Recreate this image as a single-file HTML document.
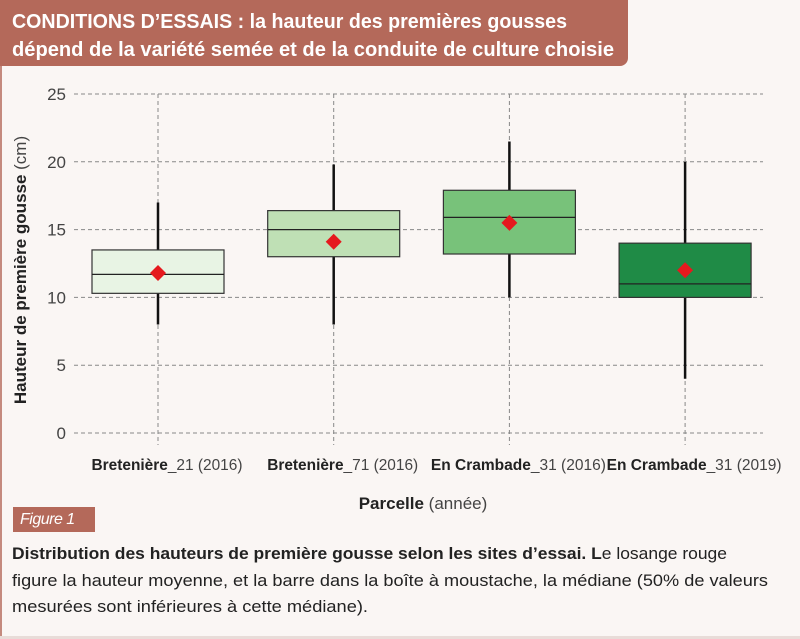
<!DOCTYPE html>
<html><head><meta charset="utf-8">
<style>
body{margin:0;background:#faf6f4;}
#root{position:relative;width:800px;height:639px;overflow:hidden;background:#faf6f4;font-family:"Liberation Sans",sans-serif;}
.hdr{position:absolute;left:0;top:0;width:628px;height:66px;background:#b4695a;border-bottom-right-radius:8px;}
.lb{position:absolute;left:0;top:66px;width:2px;height:573px;background:#c48a7e;}
.bb{position:absolute;left:0;top:636px;width:800px;height:3px;background:#e8dcd8;}
.fig{position:absolute;left:13px;top:507px;width:82px;height:25px;background:#b4695a;color:#fff;font-style:italic;font-size:16px;line-height:25px;padding-left:7px;box-sizing:border-box;letter-spacing:-0.5px;}
</style></head><body>
<div id="root">
<div class="hdr"></div>
<div class="lb"></div>
<div class="bb"></div>
<svg id="chart" width="800" height="639" style="position:absolute;left:0;top:0">
<text x="12" y="28" textLength="555" lengthAdjust="spacingAndGlyphs" font-size="20" font-weight="bold" fill="#fff" font-family="Liberation Sans, sans-serif">CONDITIONS D’ESSAIS : la hauteur des premières gousses</text>
<text x="12" y="56" textLength="602" lengthAdjust="spacingAndGlyphs" font-size="20" font-weight="bold" fill="#fff" font-family="Liberation Sans, sans-serif">dépend de la variété semée et de la conduite de culture choisie</text>
<g font-size="17" fill="#222" font-family="Liberation Sans, sans-serif">
<text x="12" y="559" textLength="715" lengthAdjust="spacingAndGlyphs"><tspan font-weight="bold">Distribution des hauteurs de première gousse selon les sites d’essai. L</tspan>e losange rouge</text>
<text x="12" y="586" textLength="756" lengthAdjust="spacingAndGlyphs">figure la hauteur moyenne, et la barre dans la boîte à moustache, la médiane (50% de valeurs</text>
<text x="12" y="612" textLength="356" lengthAdjust="spacingAndGlyphs">mesurées sont inférieures à cette médiane).</text>
</g>
</svg>
<div class="fig">Figure 1</div>
</div>
<script>
const categories=["Bretenière","Bretenière","En Crambade","En Crambade"];
const catSuffix=["_21 (2016)","_71 (2016)","_31 (2016)","_31 (2019)"];
const whiskerLow=[8,8,10,4];
const q1=[10.3,13,13.2,10];
const median=[11.7,15,15.9,11];
const q3=[13.5,16.4,17.9,14];
const whiskerHigh=[17,19.8,21.5,20];
const mean=[11.8,14.1,15.5,12];
const yTicks=[0,5,10,15,20,25];
const colors=["#e8f4e4","#bfe0b5","#78c27a","#1f8b46"];
const NS="http://www.w3.org/2000/svg";
const svg=document.getElementById('chart');
const y=v=>433-v*(339/25);
const x=i=>158+i*175.7;
const bw=132;
function mk(t,a){const e=document.createElementNS(NS,t);for(const k in a)e.setAttribute(k,a[k]);svg.appendChild(e);return e;}
yTicks.forEach(v=>{
 const l=mk('line',{x1:74,x2:763,y1:y(v),y2:y(v),stroke:'#888','stroke-dasharray':'4 3','stroke-width':1});
 
 
 const t=mk('text',{x:66,y:y(v)+6,'text-anchor':'end','font-size':17,fill:'#444','font-family':'Liberation Sans, sans-serif'});
 t.textContent=v;
 
 
});
categories.forEach((c,i)=>{
 const g=mk('line',{x1:x(i),x2:x(i),y1:y(25),y2:445,stroke:'#888','stroke-dasharray':'4 3','stroke-width':1});
 
 
 const w=mk('line',{x1:x(i),x2:x(i),y1:y(whiskerLow[i]),y2:y(whiskerHigh[i]),stroke:'#111','stroke-width':2.5});
 
 
 const b=mk('rect',{x:x(i)-bw/2,y:y(q3[i]),width:bw,height:y(q1[i])-y(q3[i]),fill:colors[i],stroke:'#333','stroke-width':1.2});
 
 
 const m=mk('line',{x1:x(i)-bw/2,x2:x(i)+bw/2,y1:y(median[i]),y2:y(median[i]),stroke:'#222','stroke-width':1.2});
 
 
 const cy=y(mean[i]),cx=x(i),d=8;
 const p=mk('polygon',{points:`${cx},${cy-d} ${cx+d},${cy} ${cx},${cy+d} ${cx-d},${cy}`,fill:'#e5191e'});
 
 
 const t=mk('text',{x:x(i)+9,y:470,'text-anchor':'middle','font-size':15.5,fill:'#222','font-family':'Liberation Sans, sans-serif',textLength:(c.length>10?175:151),lengthAdjust:'spacingAndGlyphs'});
 t.innerHTML=`<tspan font-weight="bold">${c}</tspan><tspan fill="#444">${catSuffix[i]}</tspan>`;
 
 
});
const yt=mk('text',{transform:'translate(26,270) rotate(-90)','text-anchor':'middle','font-size':17,fill:'#222','font-family':'Liberation Sans, sans-serif'});
yt.innerHTML='<tspan font-weight="bold">Hauteur de première gousse</tspan><tspan fill="#444"> (cm)</tspan>';


const xt=mk('text',{x:423,y:509,'text-anchor':'middle','font-size':17,fill:'#222','font-family':'Liberation Sans, sans-serif'});
xt.innerHTML='<tspan font-weight="bold">Parcelle</tspan><tspan fill="#444"> (année)</tspan>';


</script>
</body></html>
